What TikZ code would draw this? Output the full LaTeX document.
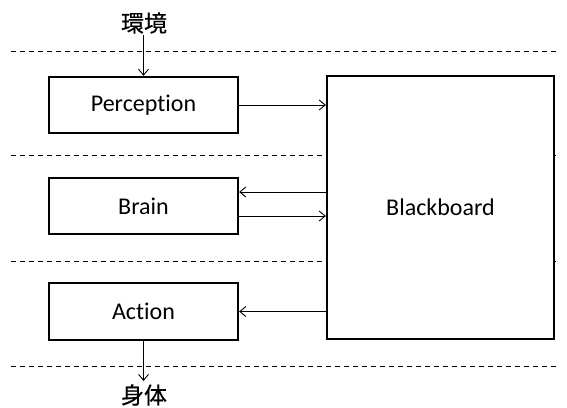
\documentclass[tikz,border=0pt]{standalone}
\usepackage{fontspec}
\setmainfont{Carlito}[Ligatures=NoCommon]
\newfontfamily\cjk{Noto Sans CJK JP}[FakeBold=0.4]
\usetikzlibrary{arrows.meta}
\begin{document}
\begin{tikzpicture}[x=1pt,y=-1pt,
  box/.style={draw,line width=2.3pt,fill=white,minimum width=189pt,inner sep=0pt,font=\fontsize{24}{28}\selectfont},
  sep/.style={dashed,line width=0.8pt,dash pattern=on 5pt off 4pt},
  conn/.style={line width=0.9pt,-{Straight Barb[length=6pt,width=10pt,line width=0.9pt]}},
  lbl/.style={font=\cjk\fontsize{23}{26}\selectfont,inner sep=0pt}]
\useasboundingbox (0,0) rectangle (567,407);
\draw[sep] (11,51) -- (557,51);
\draw[sep] (11,155) -- (557,155);
\draw[sep] (11,261) -- (557,261);
\draw[sep] (11,366) -- (557,366);
\node[box,minimum height=56pt] (per) at (143.5,105) {Perception};
\node[box,minimum height=56pt] (bra) at (143.5,206) {Brain};
\node[box,minimum height=57pt] (act) at (143.5,311.5) {Action};
\node[box,minimum width=227pt,minimum height=263pt] (bb) at (440.5,207.5) {Blackboard};
\node[lbl] (env) at (144,23) {環境};
\node[lbl] (body) at (144,395) {身体};
\coordinate (envb) at (143.5,35);
\coordinate (bodyt) at (143.5,381);
\draw[conn] (envb) -- (per.north);
\draw[conn] (act.south) -- (bodyt);
\draw[conn] (per.east) -- (bb.west |- per.east);
\draw[conn] (bb.west |- 0,192) -- (bra.east |- 0,192);
\draw[conn] (bra.east |- 0,216) -- (bb.west |- 0,216);
\draw[conn] (bb.west |- act.east) -- (act.east);
\end{tikzpicture}
\end{document}
